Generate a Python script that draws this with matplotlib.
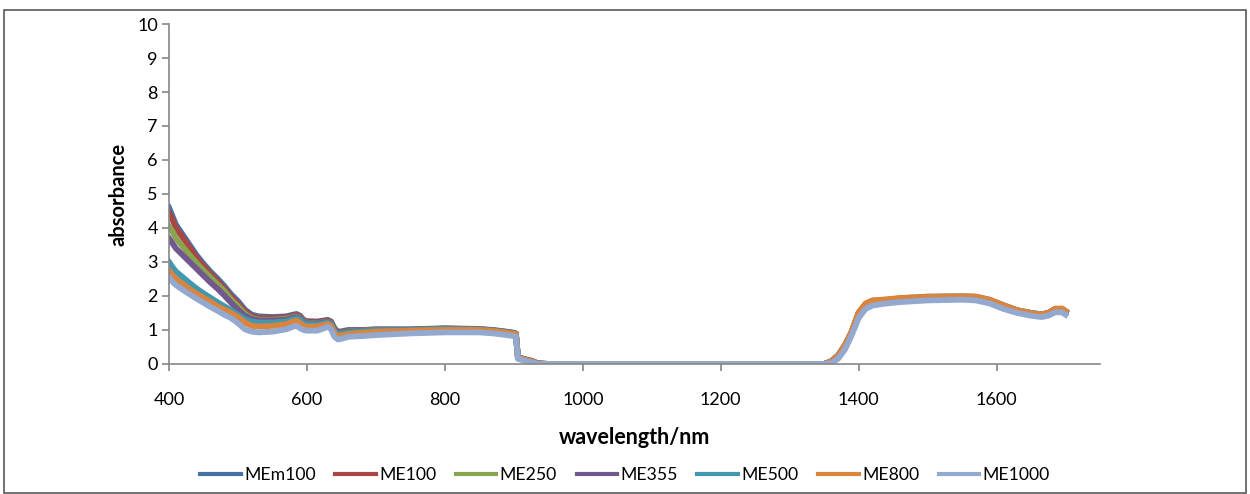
import matplotlib
matplotlib.use("Agg")
import matplotlib.pyplot as plt
from matplotlib.patches import Rectangle

plt.rcParams['font.family'] = ['Lato', 'DejaVu Sans']

series_names = ["MEm100", "ME100", "ME250", "ME355", "ME500", "ME800", "ME1000"]
colors = ["#4572A7", "#AA4643", "#89A54E", "#71588F", "#4198AF", "#DB843D", "#93A9CF"]

wavelength = [400, 405, 410, 420, 430, 440, 450, 460, 470, 480, 490, 500, 510, 520, 530,
              550, 570, 580, 585, 590, 595, 600, 615, 625, 630, 635, 640, 645, 650, 660,
              680, 700, 750, 800, 850, 870, 890, 900, 903, 906, 915, 925, 935, 950,
              1100, 1250, 1350, 1360, 1370, 1380, 1390, 1400, 1410, 1420, 1440, 1460,
              1500, 1550, 1570, 1590, 1610, 1630, 1650, 1665, 1675, 1685, 1695, 1700]

MEm100 = [4.60, 4.35, 4.10, 3.80, 3.50, 3.20, 2.95, 2.72, 2.52, 2.30, 2.05, 1.85, 1.60, 1.45, 1.40,
          1.38, 1.40, 1.45, 1.47, 1.42, 1.30, 1.26, 1.25, 1.28, 1.30, 1.25, 1.05, 0.95, 0.96, 1.00,
          1.00, 1.02, 1.02, 1.05, 1.03, 1.00, 0.95, 0.92, 0.90, 0.20, 0.15, 0.10, 0.02, 0.00,
          0.00, 0.00, 0.00, 0.08, 0.25, 0.55, 0.95, 1.50, 1.75, 1.85, 1.88, 1.92,
          1.97, 1.98, 1.97, 1.88, 1.72, 1.58, 1.50, 1.46, 1.50, 1.62, 1.62, 1.55]

ME100 = [4.45, 4.25, 4.00, 3.72, 3.42, 3.12, 2.88, 2.65, 2.45, 2.22, 1.98, 1.78, 1.55, 1.40, 1.36,
         1.35, 1.37, 1.42, 1.44, 1.40, 1.28, 1.24, 1.23, 1.26, 1.28, 1.23, 1.03, 0.93, 0.94, 0.98,
         0.99, 1.01, 1.01, 1.04, 1.02, 0.99, 0.94, 0.91, 0.89, 0.19, 0.14, 0.09, 0.02, 0.00,
         0.00, 0.00, 0.00, 0.07, 0.24, 0.54, 0.94, 1.48, 1.74, 1.84, 1.87, 1.91,
         1.96, 1.97, 1.96, 1.87, 1.71, 1.57, 1.49, 1.45, 1.49, 1.61, 1.61, 1.54]

ME250 = [4.05, 3.90, 3.70, 3.45, 3.20, 2.97, 2.75, 2.55, 2.35, 2.15, 1.90, 1.70, 1.48, 1.35, 1.30,
         1.30, 1.33, 1.38, 1.40, 1.36, 1.25, 1.21, 1.20, 1.23, 1.25, 1.20, 1.00, 0.91, 0.92, 0.96,
         0.98, 1.00, 1.00, 1.03, 1.01, 0.98, 0.93, 0.90, 0.88, 0.18, 0.13, 0.08, 0.01, 0.00,
         0.00, 0.00, 0.00, 0.07, 0.23, 0.53, 0.93, 1.47, 1.73, 1.83, 1.86, 1.90,
         1.95, 1.96, 1.95, 1.86, 1.70, 1.56, 1.48, 1.44, 1.48, 1.60, 1.60, 1.53]

ME355 = [3.70, 3.55, 3.40, 3.20, 3.00, 2.80, 2.60, 2.40, 2.22, 2.02, 1.80, 1.60, 1.42, 1.32, 1.28,
         1.28, 1.30, 1.36, 1.38, 1.34, 1.23, 1.20, 1.19, 1.22, 1.24, 1.19, 0.99, 0.90, 0.91, 0.95,
         0.97, 0.99, 1.00, 1.02, 1.01, 0.98, 0.93, 0.90, 0.88, 0.18, 0.13, 0.08, 0.01, 0.00,
         0.00, 0.00, 0.00, 0.06, 0.22, 0.52, 0.92, 1.46, 1.72, 1.82, 1.86, 1.90,
         1.95, 1.96, 1.95, 1.86, 1.70, 1.56, 1.48, 1.44, 1.48, 1.60, 1.60, 1.53]

ME500 = [3.00, 2.85, 2.72, 2.55, 2.38, 2.22, 2.08, 1.95, 1.82, 1.70, 1.58, 1.45, 1.32, 1.25, 1.22,
         1.22, 1.25, 1.32, 1.35, 1.30, 1.20, 1.17, 1.16, 1.20, 1.22, 1.17, 0.96, 0.88, 0.89, 0.93,
         0.96, 0.98, 1.00, 1.02, 1.01, 0.98, 0.93, 0.90, 0.88, 0.18, 0.13, 0.08, 0.01, 0.00,
         0.00, 0.00, 0.00, 0.07, 0.24, 0.54, 0.95, 1.50, 1.76, 1.86, 1.89, 1.93,
         1.98, 1.99, 1.98, 1.89, 1.73, 1.58, 1.50, 1.46, 1.50, 1.62, 1.62, 1.55]

ME800 = [2.75, 2.62, 2.50, 2.35, 2.20, 2.07, 1.95, 1.83, 1.70, 1.60, 1.50, 1.38, 1.22, 1.12, 1.10,
         1.12, 1.17, 1.25, 1.28, 1.20, 1.12, 1.10, 1.10, 1.15, 1.18, 1.12, 0.90, 0.82, 0.84, 0.88,
         0.92, 0.95, 0.98, 1.00, 1.00, 0.97, 0.92, 0.89, 0.87, 0.18, 0.13, 0.08, 0.01, 0.00,
         0.00, 0.00, 0.00, 0.07, 0.24, 0.55, 0.96, 1.52, 1.78, 1.87, 1.90, 1.94,
         1.98, 1.99, 1.98, 1.89, 1.73, 1.58, 1.50, 1.46, 1.50, 1.63, 1.63, 1.56]

ME1000 = [2.55, 2.42, 2.32, 2.18, 2.05, 1.92, 1.80, 1.68, 1.57, 1.45, 1.35, 1.20, 1.02, 0.95, 0.93,
          0.95, 1.02, 1.10, 1.12, 1.05, 1.00, 0.98, 0.98, 1.05, 1.10, 1.02, 0.80, 0.72, 0.74, 0.80,
          0.82, 0.85, 0.90, 0.93, 0.93, 0.90, 0.85, 0.82, 0.80, 0.15, 0.10, 0.05, 0.00, 0.00,
          0.00, 0.00, 0.00, 0.02, 0.15, 0.42, 0.85, 1.35, 1.62, 1.72, 1.78, 1.82,
          1.87, 1.89, 1.87, 1.78, 1.62, 1.50, 1.42, 1.38, 1.42, 1.52, 1.52, 1.45]

values = [MEm100, ME100, ME250, ME355, ME500, ME800, ME1000]

fig = plt.figure(figsize=(12.5, 4.94), dpi=100)
ax = fig.add_axes([0.1352, 0.2632, 0.88 - 0.1352, 0.9514 - 0.2632])

for name, col, vals in zip(series_names, colors, values):
    ax.plot(wavelength, vals, color=col, lw=4.2, label=name, solid_joinstyle='round')

ax.set_xlim(400, 1750)
ax.set_ylim(0, 10)
ax.set_xticks([400, 600, 800, 1000, 1200, 1400, 1600])
ax.set_yticks(range(0, 11))

for s in ['top', 'right']:
    ax.spines[s].set_visible(False)
for s in ['left', 'bottom']:
    ax.spines[s].set_color('#868686')
    ax.spines[s].set_linewidth(1.2)

ax.tick_params(axis='both', colors='#868686', labelcolor='black', labelsize=13,
               length=5, width=1.2, direction='out')
ax.tick_params(axis='x', pad=15)
ax.tick_params(axis='y', pad=3)

ax.set_ylabel('absorbance', fontsize=14.5, fontweight='bold', labelpad=6)
ax.set_xlabel('wavelength/nm', fontsize=15.5, fontweight='bold', labelpad=14)

leg = fig.legend(loc='center', bbox_to_anchor=(0.5, 0.038), ncol=7, frameon=False,
                 fontsize=12.7, handlelength=2.3, handletextpad=0.2, columnspacing=1.1)
for line in leg.get_lines():
    line.set_linewidth(3)

fig.patches.append(Rectangle((4 / 1250, 0.002), 1242 / 1250, 1 - 10 / 494 - 0.002,
                             transform=fig.transFigure, fill=False,
                             edgecolor='#595959', lw=1.2))

fig.savefig('out.png', dpi=100)
